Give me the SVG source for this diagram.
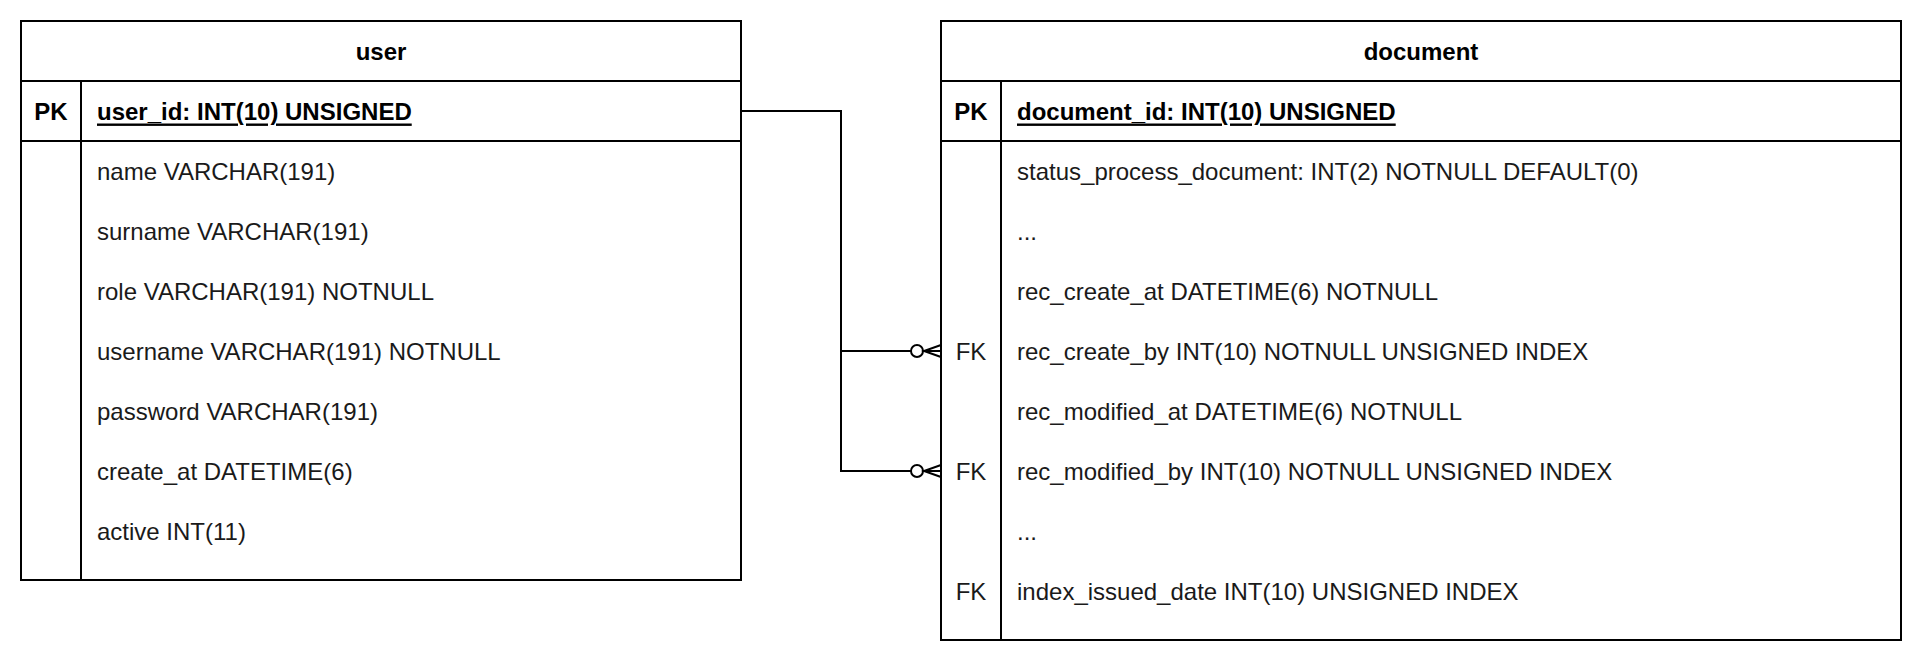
<svg xmlns="http://www.w3.org/2000/svg" width="1922" height="662" viewBox="0 0 1922 662">
<style>
.box{fill:#fff;stroke:#000;stroke-width:2}
.ln{stroke:#000;stroke-width:2;fill:none}
text{font-family:"Liberation Sans",Arial,sans-serif;font-size:24px;fill:#1a1a1a;dominant-baseline:central}
.h{font-weight:bold;text-anchor:middle;fill:#000}
.pk{font-weight:bold;fill:#000}
.k{text-anchor:middle}
.u{text-decoration:underline}
</style>
<rect width="1922" height="662" fill="#fff"/>
<g id="user">
<rect class="box" x="21" y="21" width="720" height="559"/>
<line class="ln" x1="21" y1="81" x2="741" y2="81"/>
<line class="ln" x1="21" y1="141" x2="741" y2="141"/>
<line class="ln" x1="81" y1="81" x2="81" y2="580"/>
<text class="h" x="381" y="51">user</text>
<text class="pk k" x="51" y="111">PK</text>
<text class="pk u" x="97" y="111">user_id: INT(10) UNSIGNED</text>
<text x="97" y="171">name VARCHAR(191)</text>
<text x="97" y="231">surname VARCHAR(191)</text>
<text x="97" y="291">role VARCHAR(191) NOTNULL</text>
<text x="97" y="351">username VARCHAR(191) NOTNULL</text>
<text x="97" y="411">password VARCHAR(191)</text>
<text x="97" y="471">create_at DATETIME(6)</text>
<text x="97" y="531">active INT(11)</text>
</g>
<g id="document">
<rect class="box" x="941" y="21" width="960" height="619"/>
<line class="ln" x1="941" y1="81" x2="1901" y2="81"/>
<line class="ln" x1="941" y1="141" x2="1901" y2="141"/>
<line class="ln" x1="1001" y1="81" x2="1001" y2="640"/>
<text class="h" x="1421" y="51">document</text>
<text class="pk k" x="971" y="111">PK</text>
<text class="pk u" x="1017" y="111">document_id: INT(10) UNSIGNED</text>
<text x="1017" y="171">status_process_document: INT(2) NOTNULL DEFAULT(0)</text>
<text x="1017" y="231">...</text>
<text x="1017" y="291">rec_create_at DATETIME(6) NOTNULL</text>
<text class="k" x="971" y="351">FK</text>
<text x="1017" y="351">rec_create_by INT(10) NOTNULL UNSIGNED INDEX</text>
<text x="1017" y="411">rec_modified_at DATETIME(6) NOTNULL</text>
<text class="k" x="971" y="471">FK</text>
<text x="1017" y="471">rec_modified_by INT(10) NOTNULL UNSIGNED INDEX</text>
<text x="1017" y="531">...</text>
<text class="k" x="971" y="591">FK</text>
<text x="1017" y="591">index_issued_date INT(10) UNSIGNED INDEX</text>
</g>
<g id="connectors">
<path class="ln" d="M741 111 H841 V351 H911"/>
<circle class="ln" cx="917" cy="351" r="6"/>
<path class="ln" d="M923 351 H941 M941 345 L924 351 L941 357"/>
<path class="ln" d="M841 351 V471 H911"/>
<circle class="ln" cx="917" cy="471" r="6"/>
<path class="ln" d="M923 471 H941 M941 465 L924 471 L941 477"/>
</g>
</svg>
